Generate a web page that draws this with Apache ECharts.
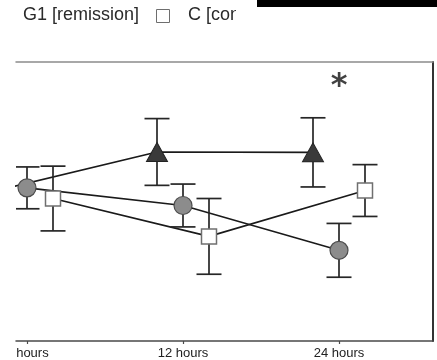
<!DOCTYPE html>
<html>
<head>
<meta charset="utf-8">
<script src="https://cdn.jsdelivr.net/npm/echarts@6/dist/echarts.min.js"></script>
<style>
  html, body { margin: 0; padding: 0; background: #fff; }
  #chart { width: 437px; height: 360px; }
</style>
</head>
<body>
<div id="chart"></div>
<script>
// Sampling times (hours) and their axis labels
const times = [0, 12, 24];
const tickLabels = ['0 hours', '12 hours', '24 hours'];

// Group means and standard errors at each time
const g2Mean = [15.2, 18.97, 18.93];
const g2Err = [2.2, 3.35, 3.47];
const g1Mean = [15.37, 13.6, 9.1];
const g1Err = [2.1, 2.15, 2.7];
const ctrlMean = [14.3, 10.5, 15.1];
const ctrlErr = [3.25, 3.8, 2.6];

// Significance marker: time and height
const sigTime = [24];
const sigLevel = [25.5];

const DODGE = 2; // horizontal spread of the groups around each time, in hours

const chart = echarts.init(document.getElementById('chart'), null, { renderer: 'canvas' });

function pts(offset, mean) {
  return times.map((t, i) => [t + offset, mean[i]]);
}

function lineSeries(name, offset, mean) {
  return {
    type: 'line', name, data: pts(offset, mean), showSymbol: false, symbol: 'none',
    clip: true, z: 2, silent: true,
    lineStyle: { color: '#1a1a1a', width: 1.6 }
  };
}

function errSeries(name, offset, mean, err) {
  return {
    type: 'custom', name, z: 3, clip: true, silent: true,
    data: times.map((t, i) => [t + offset, mean[i] - err[i], mean[i] + err[i]]),
    encode: { x: 0, y: [1, 2] },
    renderItem(params, api) {
      const x = api.value(0);
      const lo = api.coord([x, api.value(1)]);
      const hi = api.coord([x, api.value(2)]);
      const w = 12.5;
      const st = { stroke: '#262626', lineWidth: 1.7 };
      return {
        type: 'group',
        children: [
          { type: 'line', shape: { x1: lo[0], y1: lo[1], x2: hi[0], y2: hi[1] }, style: st },
          { type: 'line', shape: { x1: hi[0] - w, y1: hi[1], x2: hi[0] + w, y2: hi[1] }, style: st },
          { type: 'line', shape: { x1: lo[0] - w, y1: lo[1], x2: lo[0] + w, y2: lo[1] }, style: st }
        ]
      };
    }
  };
}

function markerSeries(name, offset, mean, symbol, size, style) {
  return {
    type: 'scatter', name, data: pts(offset, mean), symbol, symbolSize: size,
    clip: true, z: 4, silent: true, itemStyle: Object.assign({ opacity: 1 }, style)
  };
}

const option = {
  animation: false,
  backgroundColor: '#fff',
  grid: { left: 16, right: 4, top: 62, bottom: 18 },
  xAxis: [
    {
      type: 'value', position: 'bottom', min: -11 / 13, max: 406 / 13,
      splitLine: { show: false },
      axisLine: { show: true, onZero: false, lineStyle: { color: '#4a4a4a', width: 1.5 } },
      axisTick: { show: true, customValues: times, length: 3, lineStyle: { color: '#4a4a4a', width: 1.2 } },
      axisLabel: {
        customValues: times, margin: 6, color: '#222', fontSize: 13,
        fontFamily: 'Liberation Sans, Arial, sans-serif',
        formatter: v => tickLabels[times.indexOf(v)]
      }
    },
    {
      type: 'value', position: 'top', min: -11 / 13, max: 406 / 13,
      splitLine: { show: false },
      axisLine: { show: true, onZero: false, lineStyle: { color: '#8c8c8c', width: 1.5 } },
      axisTick: { show: false }, axisLabel: { show: false }
    }
  ],
  yAxis: [
    {
      type: 'value', position: 'right', min: 0, max: 28,
      splitLine: { show: false },
      axisLine: { show: true, onZero: false, lineStyle: { color: '#333', width: 2 } },
      axisTick: { show: false }, axisLabel: { show: false }
    }
  ],
  series: [
    lineSeries('G2', -DODGE, g2Mean),
    lineSeries('G1 [remission]', 0, g1Mean),
    lineSeries('C [control]', DODGE, ctrlMean),
    errSeries('G2', -DODGE, g2Mean, g2Err),
    errSeries('G1 [remission]', 0, g1Mean, g1Err),
    errSeries('C [control]', DODGE, ctrlMean, ctrlErr),
    markerSeries('G2', -DODGE, g2Mean, 'triangle', [21, 19],
      { color: '#3a3a3a', borderColor: '#222', borderWidth: 1 }),
    markerSeries('G1 [remission]', 0, g1Mean, 'circle', 18,
      { color: '#8c8c8c', borderColor: '#4d4d4d', borderWidth: 1.2 }),
    markerSeries('C [control]', DODGE, ctrlMean, 'rect', 15,
      { color: '#ffffff', borderColor: '#6f6f6f', borderWidth: 1.5 }),
    {
      type: 'scatter', name: 'significance', z: 5, silent: true,
      data: sigTime.map((t, i) => [t, sigLevel[i]]),
      symbolSize: 0,
      label: {
        show: true, position: 'inside', formatter: '*',
        fontFamily: 'DejaVu Sans', fontWeight: 'bold', fontSize: 32, color: '#111'
      }
    }
  ],
  graphic: [
    // legend fragment
    {
      type: 'text', left: 23, top: 6, z: 10,
      style: { text: 'G1 [remission]', font: '18px "Liberation Sans", Arial, sans-serif', fill: '#2a2a2a' }
    },
    {
      type: 'rect', z: 10, shape: { x: 156.5, y: 9.5, width: 13, height: 13 },
      style: { fill: '#fff', stroke: '#6e6e6e', lineWidth: 1 }
    },
    {
      type: 'text', left: 188, top: 6, z: 10,
      style: { text: 'C [control]', font: '18px "Liberation Sans", Arial, sans-serif', fill: '#2a2a2a' }
    },
    { type: 'rect', z: 11, shape: { x: 236, y: 0, width: 201, height: 50 }, style: { fill: '#fff' } },
    { type: 'rect', z: 12, shape: { x: 257, y: 0, width: 180, height: 7 }, style: { fill: '#000' } },
    // left edge trim over the first axis label
    { type: 'rect', z: 12, shape: { x: 0, y: 344, width: 16, height: 16 }, style: { fill: '#fff' } }
  ]
};

chart.setOption(option);
</script>
</body>
</html>
